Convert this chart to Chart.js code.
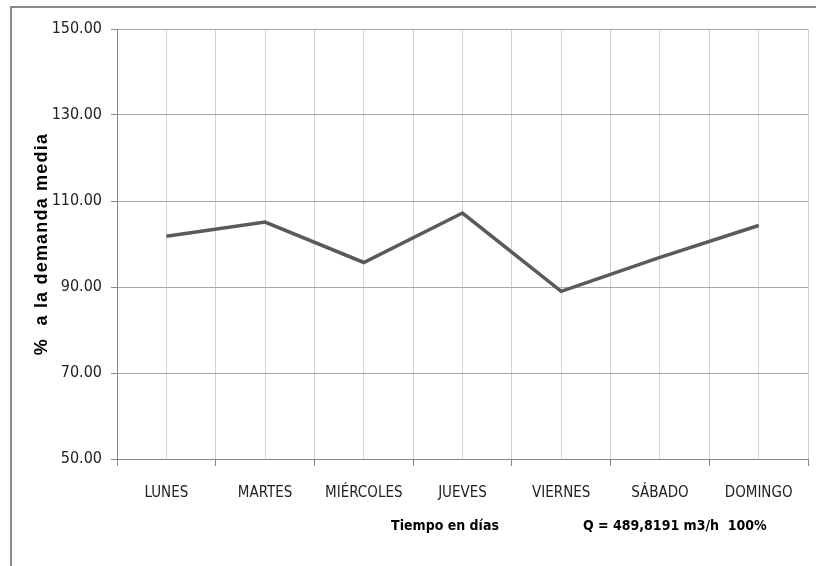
<!DOCTYPE html>
<html>
<head>
<meta charset="UTF-8">
<title>Demanda diaria</title>
<script src="https://cdn.jsdelivr.net/npm/chart.js@4"></script>
<style>
  html, body { margin: 0; padding: 0; background: #fff; }
  #wrap { width: 816px; height: 566px; position: relative; }
</style>
</head>
<body>
<div id="wrap"><canvas id="demandChart"></canvas></div>
<script>
const days = ['LUNES', 'MARTES', 'MIÉRCOLES', 'JUEVES', 'VIERNES', 'SÁBADO', 'DOMINGO'];
const demandPct = [101.8, 105.1, 95.7, 107.2, 89.0, 96.9, 104.3];
const yTicks = [50, 70, 90, 110, 130, 150];
const yTitle = '%  a la demanda media';
const xTitle = 'Tiempo en días';
const flowNote = 'Q = 489,8191 m3/h  100%';

const narrow = "'Liberation Sans Narrow', 'DejaVu Sans Condensed', 'Arial Narrow', sans-serif";

// frame + the axis titles, drawn by hand
const extras = {
    id: 'extras',
    beforeDraw(chart) {
        const c = chart.ctx;
        c.save();
        c.fillStyle = '#fff';
        c.fillRect(0, 0, chart.width, chart.height);
        c.strokeStyle = '#8a8a8a';
        c.lineWidth = 2;
        c.beginPath();
        c.moveTo(11, chart.height);
        c.lineTo(11, 7);
        c.lineTo(chart.width, 7);
        c.stroke();
        c.restore();
    },
    afterDraw(chart) {
        const c = chart.ctx;
        const area = chart.chartArea;
        c.save();
        c.fillStyle = '#000';
        c.textBaseline = 'middle';
        c.textAlign = 'center';
        c.font = "bold 18px 'Liberation Sans', Arial, sans-serif";
        c.letterSpacing = '1.2px';
        c.translate(42, (area.top + area.bottom) / 2);
        c.rotate(-Math.PI / 2);
        c.fillText(yTitle, 0, 0);
        c.restore();

        c.save();
        c.fillStyle = '#000';
        c.textBaseline = 'middle';
        c.font = 'bold 14px ' + narrow;
        c.textAlign = 'center';
        c.fillText(xTitle, 445, 526);
        c.textAlign = 'left';
        c.fillText(flowNote, 583, 526);
        c.restore();
    }
};

new Chart(document.getElementById('demandChart').getContext('2d'), {
    type: 'line',
    data: {
        datasets: [{
            label: 'Demanda',
            data: days.map((d, i) => ({ x: i, y: demandPct[i] })),
            borderColor: '#5a5a5a',
            borderWidth: 3.5,
            pointRadius: 0,
            tension: 0,
            fill: false
        }]
    },
    options: {
        responsive: true,
        maintainAspectRatio: false,
        animation: false,
        layout: { padding: { top: 29, right: 8, bottom: 0, left: 0 } },
        plugins: {
            legend: { display: false },
            tooltip: { enabled: false }
        },
        scales: {
            x: {
                type: 'linear',
                min: -0.5,
                max: 6.5,
                afterFit(scale) {
                    scale.height = 107;
                    scale.paddingLeft = 0;
                    scale.paddingRight = 0;
                },
                border: { color: '#8a8a8a', width: 1 },
                grid: {
                    color: ctx => ctx.tick && Number.isInteger(ctx.tick.value) ? '#d6d6d6' : '#d0d0d0',
                    tickColor: ctx => ctx.tick && Number.isInteger(ctx.tick.value) ? 'rgba(0,0,0,0)' : '#8a8a8a',
                    tickLength: 7
                },
                ticks: {
                    stepSize: 0.5,
                    autoSkip: false,
                    maxRotation: 0,
                    padding: 18,
                    color: '#222',
                    font: { family: narrow, size: 15 },
                    callback: v => Number.isInteger(v) ? days[v] : ''
                }
            },
            y: {
                min: 50,
                max: 150,
                afterFit(scale) { scale.width = 117; },
                afterBuildTicks(scale) { scale.ticks = yTicks.map(v => ({ value: v })); },
                border: { color: '#8a8a8a', width: 1 },
                grid: { color: '#a8a8a8', tickColor: '#8a8a8a', tickLength: 6 },
                ticks: {
                    padding: 9,
                    color: '#222',
                    font: { family: narrow, size: 16 },
                    callback: v => v.toFixed(2)
                }
            }
        }
    },
    plugins: [extras]
});
</script>
</body>
</html>
